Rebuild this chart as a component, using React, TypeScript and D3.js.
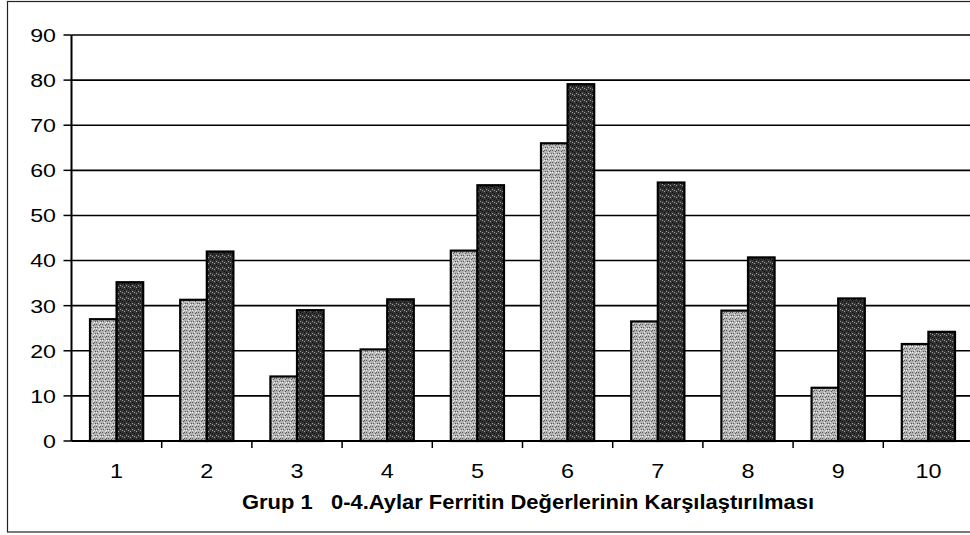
import React from "react";
import * as d3 from "d3";

const categories = ["1", "2", "3", "4", "5", "6", "7", "8", "9", "10"];
const series0Values = [27, 31.3, 14.3, 20.3, 42.2, 66, 26.5, 28.9, 11.8, 21.5];
const series1Values = [35.2, 42, 29, 31.4, 56.7, 79.1, 57.3, 40.7, 31.6, 24.2];
const yTicks = [0, 10, 20, 30, 40, 50, 60, 70, 80, 90];
const title = "Grup 1   0-4.Aylar Ferritin Değerlerinin Karşılaştırılması";

const W = 970;
const H = 535;
const left = 71.5;
const right = 973.5;
const top = 35;
const bottom = 441;
const FONT = "Arial, 'Liberation Sans', sans-serif";

export default function App() {
  const x = d3.scaleBand<string>().domain(categories).range([left, right]).paddingInner(0).paddingOuter(0);
  const y = d3.scaleLinear().domain([0, 90]).range([bottom, top]);
  const step = x.bandwidth();
  const barW = 26.6;
  const seriesList = [series0Values, series1Values];
  const fills = ["url(#lightPat)", "url(#darkPat)"];

  const dotsLight: [number, number][] = [];
  const dotsDark: [number, number][] = [];
  for (let i = 0; i < 6; i++) {
    for (let j = 0; j < 6; j++) {
      if ((i * 7 + j * 3) % 4 === 0) dotsLight.push([i, j]);
      if ((i * 5 + j * 2) % 6 === 0) dotsDark.push([i, j]);
    }
  }

  return (
    <div style={{ position: "absolute", left: 0, top: 0 }}>
      <svg width={W} height={H} style={{ display: "block", background: "#fff" }}>
        <defs>
          <pattern id="lightPat" width="6" height="6" patternUnits="userSpaceOnUse">
            <rect width="6" height="6" fill="#b4b4b4" />
            {dotsLight.map(([i, j], k) => (
              <rect key={k} x={i} y={j} width="1" height="1" fill={k % 2 ? "#eeeeee" : "#5a5a5a"} />
            ))}
          </pattern>
          <pattern id="darkPat" width="6" height="6" patternUnits="userSpaceOnUse">
            <rect width="6" height="6" fill="#333333" />
            {dotsDark.map(([i, j], k) => (
              <rect key={k} x={i} y={j} width="1" height="1" fill={k % 2 ? "#a0a0a0" : "#0a0a0a"} />
            ))}
          </pattern>
        </defs>
        <rect x={7.5} y={1.5} width={980} height={530.5} fill="none" stroke="#222" strokeWidth={1.2} />

        {yTicks.filter((t) => t > 0).map((t) => (
          <line key={t} x1={left} x2={right} y1={y(t)} y2={y(t)} stroke="#000" strokeWidth={1.6} />
        ))}

        {categories.map((c, i) => {
          const cx = (x(c) as number) + step / 2;
          return seriesList.map((s, si) => {
            const bx = cx - barW + si * barW;
            return (
              <rect
                key={c + "-" + si}
                x={bx}
                y={y(s[i])}
                width={barW}
                height={bottom - y(s[i])}
                fill={fills[si]}
                stroke="#000"
                strokeWidth={2.2}
              />
            );
          });
        })}

        <line x1={left} x2={left} y1={top} y2={bottom} stroke="#000" strokeWidth={2} />
        {yTicks.map((t) => (
          <g key={"yt" + t}>
            <line x1={left - 8} x2={left} y1={y(t)} y2={y(t)} stroke="#000" strokeWidth={1.5} />
            <text
              transform={`translate(56,${y(t)}) scale(1.22,1)`}
              dy="0.36em"
              textAnchor="end"
              fontFamily={FONT}
              fontSize={19}
              fill="#000"
            >
              {t}
            </text>
          </g>
        ))}

        <line x1={left} x2={right} y1={bottom} y2={bottom} stroke="#000" strokeWidth={2} />
        {categories.map((c) => (
          <line
            key={"xt" + c}
            x1={(x(c) as number) + step}
            x2={(x(c) as number) + step}
            y1={bottom}
            y2={bottom + 7}
            stroke="#000"
            strokeWidth={1.5}
          />
        ))}
        {categories.map((c) => (
          <text
            key={"xl" + c}
            transform={`translate(${(x(c) as number) + step / 2},478) scale(1.17,1)`}
            textAnchor="middle"
            fontFamily={FONT}
            fontSize={20}
            fill="#000"
          >
            {c}
          </text>
        ))}

        <text
          x={242}
          y={508.5}
          textLength={572}
          lengthAdjust="spacingAndGlyphs"
          fontFamily={FONT}
          fontSize={20}
          fontWeight="bold"
          fill="#000"
          style={{ whiteSpace: "pre" }}
        >
          {title}
        </text>
      </svg>
    </div>
  );
}
